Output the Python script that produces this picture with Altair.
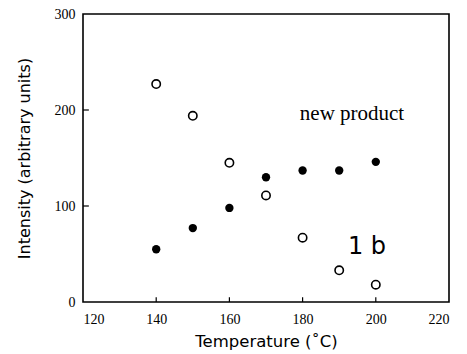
import altair as alt
import pandas as pd

temps = [140, 150, 160, 170, 180, 190, 200]
open_vals = [227, 194, 145, 111, 67, 33, 18]
filled_vals = [55, 77, 98, 130, 137, 137, 146]

x_ticks = [120, 140, 160, 180, 200, 220]
y_ticks = [0, 100, 200, 300]

df_open = pd.DataFrame({"T": temps, "I": open_vals})
df_filled = pd.DataFrame({"T": temps, "I": filled_vals})

xs = alt.Scale(domain=[120, 220], nice=False)
ys = alt.Scale(domain=[0, 300], nice=False)

xaxis = alt.Axis(values=x_ticks, ticks=False, grid=False, domain=False,
                 labelFont="Liberation Sans Narrow", labelFontSize=14, labelPadding=10,
                 labelColor="black", title="Temperature (˚C)", titleFont="DejaVu Sans",
                 titleFontSize=16.5, titleFontWeight="normal", titleColor="black", titlePadding=7)
yaxis = alt.Axis(values=y_ticks, ticks=False, grid=False, domain=False,
                 labelFont="Liberation Sans Narrow", labelFontSize=14, labelPadding=8,
                 labelColor="black", title="Intensity (arbitrary units)", titleFont="DejaVu Sans",
                 titleFontSize=16, titleFontWeight="normal", titleColor="black", titlePadding=22)

base_open = alt.Chart(df_open).mark_point(shape="circle", filled=False, size=70,
                                          strokeWidth=1.6, color="black", opacity=1).encode(
    x=alt.X("T:Q", scale=xs, axis=xaxis),
    y=alt.Y("I:Q", scale=ys, axis=yaxis),
)
base_filled = alt.Chart(df_filled).mark_point(shape="circle", filled=True, size=70,
                                              color="black", opacity=1).encode(
    x=alt.X("T:Q", scale=xs),
    y=alt.Y("I:Q", scale=ys),
)

# inward ticks
xt = pd.DataFrame({"T": [140, 160, 180, 200], "y0": [0] * 4, "y1": [5] * 4})
yt = pd.DataFrame({"I": [100, 200], "x0": [120] * 2, "x1": [121.6] * 2})
xtick = alt.Chart(xt).mark_rule(color="black", strokeWidth=1.2).encode(
    x=alt.X("T:Q", scale=xs), y=alt.Y("y0:Q", scale=ys), y2="y1:Q")
ytick = alt.Chart(yt).mark_rule(color="black", strokeWidth=1.2).encode(
    y=alt.Y("I:Q", scale=ys), x=alt.X("x0:Q", scale=xs), x2="x1:Q")

labels = pd.DataFrame({"T": [193.5], "I": [196], "txt": ["new product"]})
txt1 = alt.Chart(labels).mark_text(font="Liberation Serif", fontSize=21, color="black").encode(
    x=alt.X("T:Q", scale=xs), y=alt.Y("I:Q", scale=ys), text="txt:N")
labels2 = pd.DataFrame({"T": [197.6], "I": [57], "txt": ["1 b"]})
txt2 = alt.Chart(labels2).mark_text(font="DejaVu Sans", fontSize=24, color="black").encode(
    x=alt.X("T:Q", scale=xs), y=alt.Y("I:Q", scale=ys), text="txt:N")

chart = alt.layer(base_open, base_filled, xtick, ytick, txt1, txt2).properties(
    width=366, height=288,
    autosize=alt.AutoSizeParams(type="none"),
    padding={"left": 83, "top": 14, "right": 18, "bottom": 52},
    background="white",
).configure_view(stroke="black", strokeWidth=1.6)

chart.save("out.html", embed_options={"renderer": "svg", "actions": False})
